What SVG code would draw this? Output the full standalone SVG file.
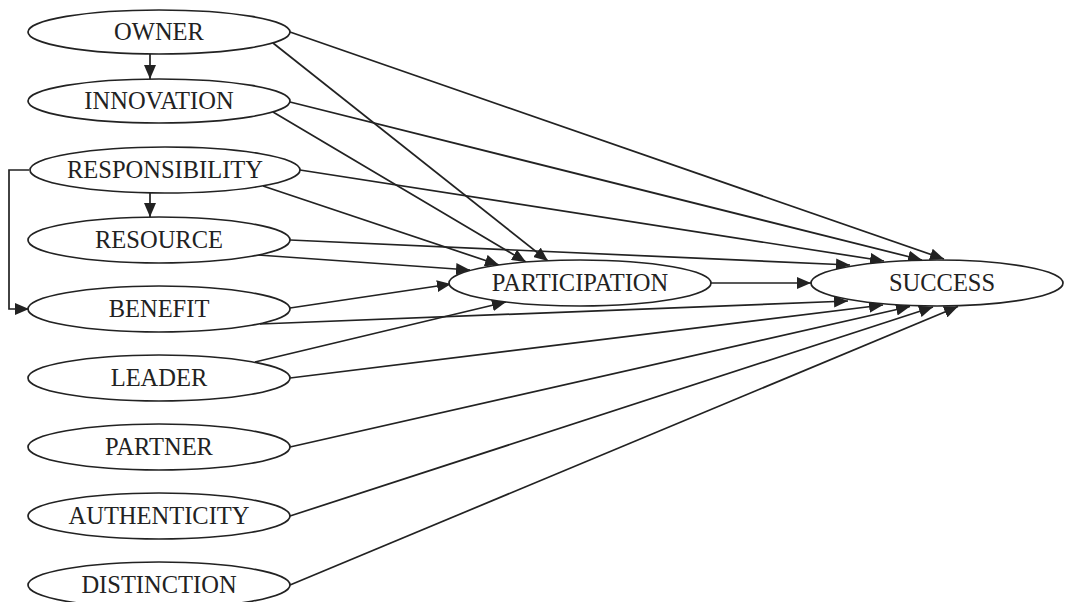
<svg xmlns="http://www.w3.org/2000/svg" width="1068" height="602" viewBox="0 0 1068 602">
<style>
  .n ellipse { fill: #fff; stroke: #222; stroke-width: 1.7; }
  .n text { font-family: "Liberation Serif", "Times New Roman", serif; font-size: 24.5px; fill: #222; text-anchor: middle; }
  .e path { fill: none; stroke: #222; stroke-width: 1.7; marker-end: url(#ah); }
</style>
<defs>
  <marker id="ah" markerUnits="userSpaceOnUse" markerWidth="15" markerHeight="12" refX="14" refY="6" orient="auto">
    <path d="M0,0 L14,6 L0,12 z" fill="#222"/>
  </marker>
</defs>
<rect width="1068" height="602" fill="#fff"/>
<g id="edges" class="e">
  <path d="M150,54 L150,79"/>
  <path d="M150,193 L150,217"/>
  <path d="M29,170 L9,170 L9,309 L29,309"/>
  <path d="M273,43 L548,261"/>
  <path d="M273,112 L526,262"/>
  <path d="M263,186 L499,265"/>
  <path d="M258,255 L470,270"/>
  <path d="M290,308 L451,284"/>
  <path d="M255,362 L506,302"/>
  <path d="M290,32 L944,259"/>
  <path d="M290,102 L922,260"/>
  <path d="M300,170 L884,261"/>
  <path d="M290,240 L850,265"/>
  <path d="M260,324 L848,301"/>
  <path d="M290,378 L883,305"/>
  <path d="M290,447 L910,306.5"/>
  <path d="M290,516 L933,307"/>
  <path d="M290,585 L958,306.5"/>
  <path d="M711,283 L811,283"/>
</g>
<g id="owner" class="n"><ellipse cx="159" cy="32" rx="131" ry="22"/><text x="159" y="40">OWNER</text></g>
<g id="innovation" class="n"><ellipse cx="159" cy="101" rx="131" ry="22"/><text x="159" y="109">INNOVATION</text></g>
<g id="responsibility" class="n"><ellipse cx="165" cy="170" rx="135" ry="23"/><text x="165" y="178">RESPONSIBILITY</text></g>
<g id="resource" class="n"><ellipse cx="159" cy="240" rx="131" ry="23"/><text x="159" y="248">RESOURCE</text></g>
<g id="benefit" class="n"><ellipse cx="159" cy="309" rx="131" ry="23"/><text x="159" y="317">BENEFIT</text></g>
<g id="leader" class="n"><ellipse cx="159" cy="378" rx="131" ry="23"/><text x="159" y="386">LEADER</text></g>
<g id="partner" class="n"><ellipse cx="159" cy="447" rx="131" ry="23"/><text x="159" y="455">PARTNER</text></g>
<g id="authenticity" class="n"><ellipse cx="159" cy="516" rx="131" ry="23"/><text x="159" y="524">AUTHENTICITY</text></g>
<g id="distinction" class="n"><ellipse cx="159" cy="585" rx="131" ry="23"/><text x="159" y="593">DISTINCTION</text></g>
<g id="participation" class="n"><ellipse cx="580" cy="283" rx="131" ry="23"/><text x="580" y="291">PARTICIPATION</text></g>
<g id="success" class="n"><ellipse cx="937" cy="283" rx="126" ry="23"/><text x="942" y="291">SUCCESS</text></g>
</svg>
